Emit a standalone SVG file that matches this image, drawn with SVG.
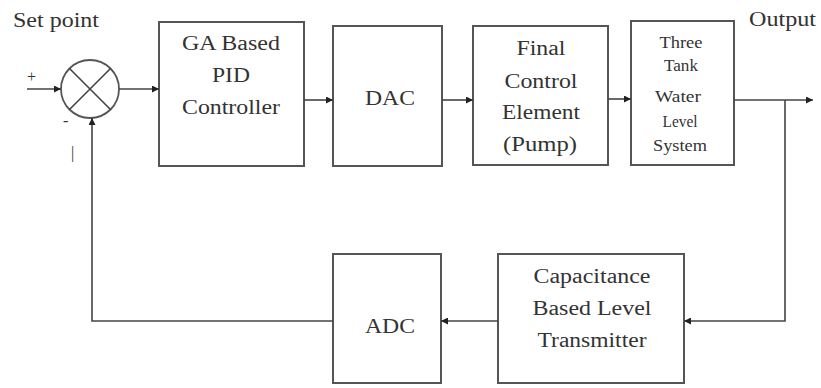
<svg xmlns="http://www.w3.org/2000/svg" width="821" height="388" viewBox="0 0 821 388">
<defs>
<marker id="ah" viewBox="0 0 10 10" refX="10" refY="5" markerWidth="9" markerHeight="7" markerUnits="userSpaceOnUse" orient="auto">
<path d="M0,0 L10,5 L0,10 Z" fill="#222"/>
</marker>
</defs>
<style>
.box{fill:#fff;stroke:#555;stroke-width:2}
.ln{fill:none;stroke:#444;stroke-width:1.6}
text{font-family:'Liberation Serif',serif;font-size:20px;fill:#333;text-anchor:middle}
text.s{font-size:16px}
text.l{text-anchor:start}
</style>
<rect width="821" height="388" fill="#fff"/>
<g id="labels" font-family="Liberation Serif, serif">
<text class="l" x="13" y="27" textLength="86" lengthAdjust="spacingAndGlyphs">Set point</text>
<text class="l" x="749" y="26" textLength="67" lengthAdjust="spacingAndGlyphs">Output</text>
<text class="l s" x="27" y="82">+</text>
<text class="l s" x="63" y="126">-</text>
<text class="l s" x="71" y="158" fill="#777">|</text>
</g>
<g id="sum">
<circle cx="90" cy="89" r="29" fill="#fff" stroke="#555" stroke-width="1.8"/>
<path class="ln" d="M69.5,68.5 L110.5,109.5 M110.5,68.5 L69.5,109.5"/>
</g>
<g id="ga">
<rect class="box" x="159" y="22" width="145" height="144"/>
<text x="231" y="50" textLength="98" lengthAdjust="spacingAndGlyphs">GA Based</text>
<text x="231" y="82" textLength="38" lengthAdjust="spacingAndGlyphs">PID</text>
<text x="231" y="114" textLength="98" lengthAdjust="spacingAndGlyphs">Controller</text>
</g>
<g id="dac">
<rect class="box" x="333" y="26" width="109" height="140"/>
<text x="390" y="105" textLength="50" lengthAdjust="spacingAndGlyphs">DAC</text>
</g>
<g id="fce">
<rect class="box" x="473" y="26" width="135" height="139"/>
<text x="541" y="55" textLength="49" lengthAdjust="spacingAndGlyphs">Final</text>
<text x="541" y="88" textLength="73" lengthAdjust="spacingAndGlyphs">Control</text>
<text x="541" y="119" textLength="78" lengthAdjust="spacingAndGlyphs">Element</text>
<text x="540" y="151" textLength="74" lengthAdjust="spacingAndGlyphs">(Pump)</text>
</g>
<g id="tank">
<rect class="box" x="631" y="21" width="103" height="144"/>
<text class="s" x="681" y="48" textLength="43" lengthAdjust="spacingAndGlyphs">Three</text>
<text class="s" x="681" y="71" textLength="34" lengthAdjust="spacingAndGlyphs">Tank</text>
<text class="s" x="678" y="102" textLength="46" lengthAdjust="spacingAndGlyphs">Water</text>
<text class="s" x="680" y="127" textLength="35" lengthAdjust="spacingAndGlyphs">Level</text>
<text class="s" x="680" y="151" textLength="54" lengthAdjust="spacingAndGlyphs">System</text>
</g>
<g id="adc">
<rect class="box" x="333" y="254" width="108" height="129"/>
<text x="390" y="333" textLength="50" lengthAdjust="spacingAndGlyphs">ADC</text>
</g>
<g id="clt">
<rect class="box" x="498" y="254" width="186" height="129"/>
<text x="592" y="283" textLength="117" lengthAdjust="spacingAndGlyphs">Capacitance</text>
<text x="592" y="315" textLength="119" lengthAdjust="spacingAndGlyphs">Based Level</text>
<text x="592" y="347" textLength="109" lengthAdjust="spacingAndGlyphs">Transmitter</text>
</g>
<g id="connectors">
<path class="ln" d="M27,89 L61,89" marker-end="url(#ah)"/>
<path class="ln" d="M119,89 L159,89" marker-end="url(#ah)"/>
<path class="ln" d="M304,100 L333,100" marker-end="url(#ah)"/>
<path class="ln" d="M442,100 L473,100" marker-end="url(#ah)"/>
<path class="ln" d="M608,99 L631,99" marker-end="url(#ah)"/>
<path class="ln" d="M734,100 L813,100" marker-end="url(#ah)"/>
<path class="ln" d="M785,100 L785,321 L684,321" marker-end="url(#ah)"/>
<path class="ln" d="M498,321 L441,321" marker-end="url(#ah)"/>
<path class="ln" d="M333,321 L92,321 L92,118" marker-end="url(#ah)"/>
</g>
</svg>
